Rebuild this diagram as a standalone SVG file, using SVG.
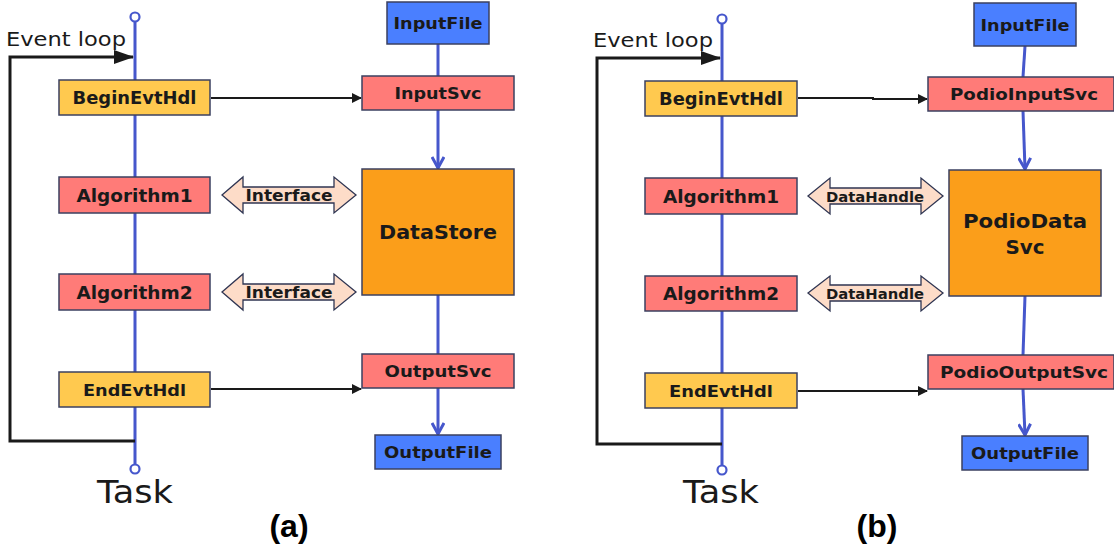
<svg xmlns="http://www.w3.org/2000/svg" width="1114" height="549" viewBox="0 0 1114 549">
<style>
.box{stroke:#3b4060;stroke-width:1.5}
.y{fill:#FFC94F}
.r{fill:#FF7B78}
.b{fill:#4A7FFF}
.o{fill:#FB9E1A}
.lbl{font-family:"DejaVu Sans","Open Sans",sans-serif;font-weight:bold;fill:#1a1a1a;text-anchor:middle}
.bl{stroke:#4657CC;stroke-width:3;fill:none}
.blk{stroke:#1a1a1a;stroke-width:3;fill:none}
.thin{stroke:#1a1a1a;stroke-width:2;fill:none}
.dbl{fill:#FDDCC8;stroke:#2f3552;stroke-width:1.3}
.reg{font-family:"DejaVu Sans","Open Sans",sans-serif;fill:#1a1a1a}
.cap{font-family:"Liberation Sans",Arial,sans-serif;font-weight:bold;fill:#000;text-anchor:middle;font-size:32px}
</style>
<defs>
<marker id="fa" markerWidth="10" markerHeight="10" refX="9" refY="5" orient="auto" markerUnits="userSpaceOnUse" viewBox="0 0 10 10">
<path d="M0,0 L10,5 L0,10 z" fill="#1a1a1a"/>
</marker>
<marker id="fab" markerWidth="20" markerHeight="14" refX="19" refY="7" orient="auto" markerUnits="userSpaceOnUse" viewBox="0 0 20 14">
<path d="M0,0 L20,7 L0,14 z" fill="#1a1a1a"/>
</marker>
<marker id="va" markerWidth="14" markerHeight="14" refX="12" refY="7" orient="auto" markerUnits="userSpaceOnUse" viewBox="0 0 14 14">
<path d="M1,1 L12,7 L1,13" fill="none" stroke="#4657CC" stroke-width="3"/>
</marker>
</defs>

<!-- connectors -->
<g id="connectors">
  <!-- panel a -->
  <line class="bl" x1="135" y1="21" x2="135" y2="465"/>
  <path class="blk" d="M135,441 L10,441 L10,57 L133,57" marker-end="url(#fab)"/>
  <line class="thin" x1="211" y1="98" x2="361" y2="98" marker-end="url(#fa)"/>
  <line class="thin" x1="211" y1="389" x2="361" y2="389" marker-end="url(#fa)"/>
  <line class="bl" x1="438" y1="44" x2="438" y2="76"/>
  <line class="bl" x1="438" y1="110" x2="438" y2="168" marker-end="url(#va)"/>
  <line class="bl" x1="438" y1="295" x2="438" y2="354"/>
  <line class="bl" x1="438" y1="388" x2="438" y2="434" marker-end="url(#va)"/>
  <!-- panel b -->
  <line class="bl" x1="722" y1="23" x2="722" y2="466"/>
  <path class="blk" d="M722,444 L597,444 L597,58 L720,58" marker-end="url(#fab)"/>
  <path class="thin" d="M798,98 L873,98 L873,99 L927,99" marker-end="url(#fa)"/>
  <line class="thin" x1="798" y1="391" x2="927" y2="391" marker-end="url(#fa)"/>
  <line class="bl" x1="1025" y1="46" x2="1023" y2="77"/>
  <line class="bl" x1="1023" y1="111" x2="1025" y2="169" marker-end="url(#va)"/>
  <line class="bl" x1="1025" y1="296" x2="1023" y2="355"/>
  <line class="bl" x1="1023" y1="389" x2="1025" y2="435" marker-end="url(#va)"/>
</g>

<!-- panel (a) -->
<g id="a-top-circle"><circle cx="135" cy="17" r="4.5" fill="#fff" stroke="#4657CC" stroke-width="2.2"/></g>
<g id="a-bottom-circle"><circle cx="135" cy="469" r="4.5" fill="#fff" stroke="#4657CC" stroke-width="2.2"/></g>
<g id="a-eventloop"><text class="reg" x="6" y="46" font-size="19" textLength="120" lengthAdjust="spacingAndGlyphs">Event loop</text></g>
<g id="a-task"><text class="reg" x="135" y="503" font-size="32" text-anchor="middle" textLength="76" lengthAdjust="spacingAndGlyphs">Task</text></g>
<g id="a-caption"><text class="cap" x="289" y="537">(a)</text></g>

<g id="a-begin"><rect class="box y" x="59" y="80" width="151" height="35"/><text class="lbl" x="134.5" y="104" font-size="17" textLength="124" lengthAdjust="spacingAndGlyphs">BeginEvtHdl</text></g>
<g id="a-alg1"><rect class="box r" x="59" y="177" width="151" height="36"/><text class="lbl" x="134.5" y="202" font-size="17" textLength="116" lengthAdjust="spacingAndGlyphs">Algorithm1</text></g>
<g id="a-alg2"><rect class="box r" x="59" y="274" width="151" height="36"/><text class="lbl" x="134.5" y="299" font-size="17" textLength="116" lengthAdjust="spacingAndGlyphs">Algorithm2</text></g>
<g id="a-end"><rect class="box y" x="59" y="372" width="151" height="35"/><text class="lbl" x="134.5" y="396" font-size="16" textLength="103" lengthAdjust="spacingAndGlyphs">EndEvtHdl</text></g>

<g id="a-inputfile"><rect class="box b" x="387" y="2" width="102" height="42"/><text class="lbl" x="438" y="29" font-size="16" textLength="89" lengthAdjust="spacingAndGlyphs">InputFile</text></g>
<g id="a-inputsvc"><rect class="box r" x="362" y="76" width="152" height="34"/><text class="lbl" x="438" y="99" font-size="16" textLength="87" lengthAdjust="spacingAndGlyphs">InputSvc</text></g>
<g id="a-datastore"><rect class="box o" x="362" y="169" width="152" height="126"/><text class="lbl" x="438" y="239" font-size="19" textLength="118" lengthAdjust="spacingAndGlyphs">DataStore</text></g>
<g id="a-outputsvc"><rect class="box r" x="362" y="354" width="152" height="34"/><text class="lbl" x="438" y="377" font-size="16" textLength="107" lengthAdjust="spacingAndGlyphs">OutputSvc</text></g>
<g id="a-outputfile"><rect class="box b" x="375" y="435" width="126" height="34"/><text class="lbl" x="438" y="458" font-size="16" textLength="108" lengthAdjust="spacingAndGlyphs">OutputFile</text></g>

<g id="a-iface1"><path class="dbl" d="M222,195 L243,177 L243,187 L334,187 L334,177 L356,195 L334,213 L334,203 L243,203 L243,213 Z"/><text class="lbl" x="289" y="201" font-size="16" textLength="87" lengthAdjust="spacingAndGlyphs">Interface</text></g>
<g id="a-iface2"><path class="dbl" d="M222,292 L243,274 L243,284 L334,284 L334,274 L356,292 L334,310 L334,300 L243,300 L243,310 Z"/><text class="lbl" x="289" y="298" font-size="16" textLength="87" lengthAdjust="spacingAndGlyphs">Interface</text></g>

<!-- panel (b) -->
<g id="b-top-circle"><circle cx="722" cy="19" r="4.5" fill="#fff" stroke="#4657CC" stroke-width="2.2"/></g>
<g id="b-bottom-circle"><circle cx="722" cy="470" r="4.5" fill="#fff" stroke="#4657CC" stroke-width="2.2"/></g>
<g id="b-eventloop"><text class="reg" x="593" y="47" font-size="19" textLength="120" lengthAdjust="spacingAndGlyphs">Event loop</text></g>
<g id="b-task"><text class="reg" x="721" y="503" font-size="32" text-anchor="middle" textLength="76" lengthAdjust="spacingAndGlyphs">Task</text></g>
<g id="b-caption"><text class="cap" x="877" y="537">(b)</text></g>

<g id="b-begin"><rect class="box y" x="645" y="81" width="152" height="35"/><text class="lbl" x="721" y="105" font-size="17" textLength="124" lengthAdjust="spacingAndGlyphs">BeginEvtHdl</text></g>
<g id="b-alg1"><rect class="box r" x="645" y="178" width="152" height="36"/><text class="lbl" x="721" y="203" font-size="17" textLength="116" lengthAdjust="spacingAndGlyphs">Algorithm1</text></g>
<g id="b-alg2"><rect class="box r" x="645" y="276" width="152" height="35"/><text class="lbl" x="721" y="300" font-size="17" textLength="116" lengthAdjust="spacingAndGlyphs">Algorithm2</text></g>
<g id="b-end"><rect class="box y" x="645" y="373" width="152" height="35"/><text class="lbl" x="721" y="397" font-size="16" textLength="104" lengthAdjust="spacingAndGlyphs">EndEvtHdl</text></g>

<g id="b-inputfile"><rect class="box b" x="974" y="3" width="102" height="43"/><text class="lbl" x="1025" y="31" font-size="16" textLength="89" lengthAdjust="spacingAndGlyphs">InputFile</text></g>
<g id="b-inputsvc"><rect class="box r" x="928" y="77" width="186" height="34"/><text class="lbl" x="1024" y="100" font-size="16" textLength="148" lengthAdjust="spacingAndGlyphs">PodioInputSvc</text></g>
<g id="b-datasvc"><rect class="box o" x="949" y="170" width="152" height="126"/><text class="lbl" x="1025" y="228" font-size="20" textLength="124" lengthAdjust="spacingAndGlyphs">PodioData</text><text class="lbl" x="1025" y="254" font-size="20" textLength="39" lengthAdjust="spacingAndGlyphs">Svc</text></g>
<g id="b-outputsvc"><rect class="box r" x="928" y="355" width="186" height="34"/><text class="lbl" x="1024" y="378" font-size="16" textLength="168" lengthAdjust="spacingAndGlyphs">PodioOutputSvc</text></g>
<g id="b-outputfile"><rect class="box b" x="962" y="436" width="126" height="34"/><text class="lbl" x="1025" y="459" font-size="16" textLength="108" lengthAdjust="spacingAndGlyphs">OutputFile</text></g>

<g id="b-dh1"><path class="dbl" d="M808,196 L830,178 L830,188 L921,188 L921,178 L943,196 L921,214 L921,204 L830,204 L830,214 Z"/><text class="lbl" x="875" y="202" font-size="14" textLength="98" lengthAdjust="spacingAndGlyphs">DataHandle</text></g>
<g id="b-dh2"><path class="dbl" d="M808,293 L830,276 L830,285 L921,285 L921,276 L943,293 L921,311 L921,301 L830,301 L830,311 Z"/><text class="lbl" x="875" y="299" font-size="14" textLength="98" lengthAdjust="spacingAndGlyphs">DataHandle</text></g>
</svg>
